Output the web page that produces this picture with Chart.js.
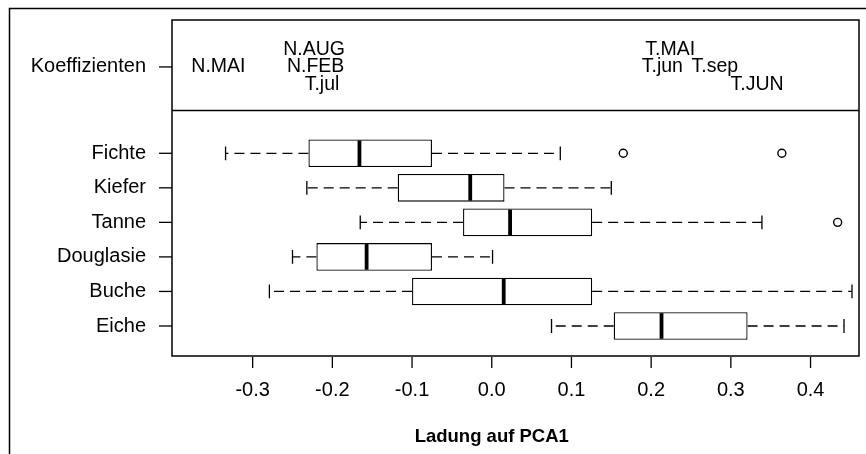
<!DOCTYPE html>
<html>
<head>
<meta charset="utf-8">
<script src="https://cdn.jsdelivr.net/npm/chart.js@4/dist/chart.umd.min.js"></script>
<style>
  html, body { margin: 0; padding: 0; background: #fff; }
  #wrap { width: 866px; height: 454px; }
</style>
</head>
<body>
<div id="wrap"><canvas id="pcaChart" width="866" height="454"></canvas></div>
<script>
// --- data ---
const categories = ['Fichte', 'Kiefer', 'Tanne', 'Douglasie', 'Buche', 'Eiche'];
const rowPos = [1, 2, 3, 4, 5, 6];
const whiskerLow = [-0.334, -0.232, -0.165, -0.250, -0.279, 0.075];
const q1 = [-0.230, -0.118, -0.036, -0.220, -0.100, 0.153];
const median = [-0.166, -0.027, 0.023, -0.157, 0.015, 0.213];
const q3 = [-0.075, 0.016, 0.126, -0.075, 0.126, 0.321];
const whiskerHigh = [0.086, 0.150, 0.339, 0.001, 0.452, 0.442];

const outlierRow = [1, 1, 3];
const outlierValue = [0.165, 0.364, 0.434];

const coefLabel = 'Koeffizienten';
const coefRow = -1.5;
const coefNames = ['N.MAI', 'N.AUG', 'N.FEB', 'T.jul', 'T.MAI', 'T.jun', 'T.sep', 'T.JUN'];
const coefValues = [-0.343, -0.223, -0.221, -0.213, 0.224, 0.214, 0.280, 0.333];
const coefLevels = [-1.5, -2, -1.5, -1, -2, -1.5, -1.5, -1];
const panelDivider = -0.24;

const xTicks = [-0.3, -0.2, -0.1, 0.0, 0.1, 0.2, 0.3, 0.4];
const xTickLabels = ['-0.3', '-0.2', '-0.1', '0.0', '0.1', '0.2', '0.3', '0.4'];
const xTitle = 'Ladung auf PCA1';

const FONT = '"Liberation Sans", Arial, Helvetica, sans-serif';

// R-style frame, axes, whiskers, medians and coefficient text
const rPlot = {
  id: 'rPlot',
  beforeDraw(chart) {
    const ctx = chart.ctx;
    ctx.save();
    ctx.fillStyle = '#fff';
    ctx.fillRect(0, 0, chart.width, chart.height);
    ctx.strokeStyle = '#000';
    ctx.lineWidth = 1.5;
    ctx.beginPath();
    ctx.moveTo(9.5, chart.height);
    ctx.lineTo(9.5, 8.5);
    ctx.lineTo(chart.width, 8.5);
    ctx.stroke();
    ctx.restore();
  },
  afterDatasetsDraw(chart) {
    const ctx = chart.ctx;
    const x = chart.scales.x, y = chart.scales.y;
    const area = chart.chartArea;
    ctx.save();
    ctx.strokeStyle = '#000';

    // whiskers
    rowPos.forEach((r, i) => {
      const py = y.getPixelForValue(r);
      ctx.lineWidth = 1.3;
      ctx.setLineDash([10, 6]);
      ctx.beginPath();
      ctx.moveTo(x.getPixelForValue(q1[i]), py);
      ctx.lineTo(x.getPixelForValue(whiskerLow[i]), py);
      ctx.moveTo(x.getPixelForValue(q3[i]), py);
      ctx.lineTo(x.getPixelForValue(whiskerHigh[i]), py);
      ctx.stroke();
      ctx.setLineDash([]);
      ctx.beginPath();
      [whiskerLow[i], whiskerHigh[i]].forEach(v => {
        const px = x.getPixelForValue(v);
        ctx.moveTo(px, y.getPixelForValue(r - 0.2));
        ctx.lineTo(px, y.getPixelForValue(r + 0.2));
      });
      ctx.stroke();
      // median
      ctx.lineWidth = 3.8;
      ctx.beginPath();
      const mx = x.getPixelForValue(median[i]);
      ctx.moveTo(mx, y.getPixelForValue(r - 0.4) + 1);
      ctx.lineTo(mx, y.getPixelForValue(r + 0.4) - 1);
      ctx.stroke();
    });

    // frame + divider
    ctx.lineWidth = 1.5;
    ctx.strokeRect(area.left, area.top, area.right - area.left, area.bottom - area.top);
    const dy = y.getPixelForValue(panelDivider);
    ctx.beginPath();
    ctx.moveTo(area.left, dy);
    ctx.lineTo(area.right, dy);
    ctx.stroke();

    // coefficient labels
    ctx.fillStyle = '#000';
    ctx.font = '19.5px ' + FONT;
    ctx.textAlign = 'center';
    ctx.textBaseline = 'middle';
    coefNames.forEach((n, i) => {
      ctx.fillText(n, x.getPixelForValue(coefValues[i]), y.getPixelForValue(coefLevels[i]));
    });

    // y axis
    ctx.font = '20px ' + FONT;
    ctx.textAlign = 'right';
    ctx.lineWidth = 1.3;
    const yRows = [coefRow].concat(rowPos);
    const yNames = [coefLabel].concat(categories);
    yRows.forEach((r, i) => {
      const py = y.getPixelForValue(r);
      ctx.beginPath();
      ctx.moveTo(area.left - 13, py);
      ctx.lineTo(area.left, py);
      ctx.stroke();
      ctx.fillText(yNames[i], area.left - 26, py);
    });

    // x axis
    ctx.textAlign = 'center';
    xTicks.forEach((t, i) => {
      const px = x.getPixelForValue(t);
      ctx.beginPath();
      ctx.moveTo(px, area.bottom + 1);
      ctx.lineTo(px, area.bottom + 12);
      ctx.stroke();
      ctx.fillText(xTickLabels[i], px, area.bottom + 34);
    });
    ctx.font = 'bold 18.5px ' + FONT;
    ctx.fillText(xTitle, x.getPixelForValue(0), area.bottom + 81);
    ctx.restore();
  }
};

new Chart(document.getElementById('pcaChart'), {
  type: 'bar',
  data: {
    datasets: [{
      type: 'bar',
      indexAxis: 'y',
      data: rowPos.map((r, i) => ({ x: [q1[i], q3[i]], y: r })),
      backgroundColor: '#fff',
      borderColor: '#000',
      borderWidth: 1.3,
      borderSkipped: false,
      categoryPercentage: 0.8,
      barPercentage: 1.0
    }, {
      type: 'scatter',
      data: outlierValue.map((v, i) => ({ x: v, y: outlierRow[i] })),
      pointStyle: 'circle',
      pointRadius: 4,
      pointBackgroundColor: '#fff',
      pointBorderColor: '#000',
      pointBorderWidth: 1.4
    }]
  },
  options: {
    responsive: false,
    animation: false,
    layout: { padding: { left: 172, right: 7, top: 20, bottom: 98 } },
    plugins: { legend: { display: false }, tooltip: { enabled: false } },
    scales: {
      x: { type: 'linear', min: -0.4012, max: 0.4608, offset: false, display: false },
      y: {
        type: 'linear', reverse: true, min: -2.859, max: 6.869, offset: false, display: false,
        afterBuildTicks: scale => { scale.ticks = rowPos.map(v => ({ value: v })); }
      }
    }
  },
  plugins: [rPlot]
});
</script>
</body>
</html>
